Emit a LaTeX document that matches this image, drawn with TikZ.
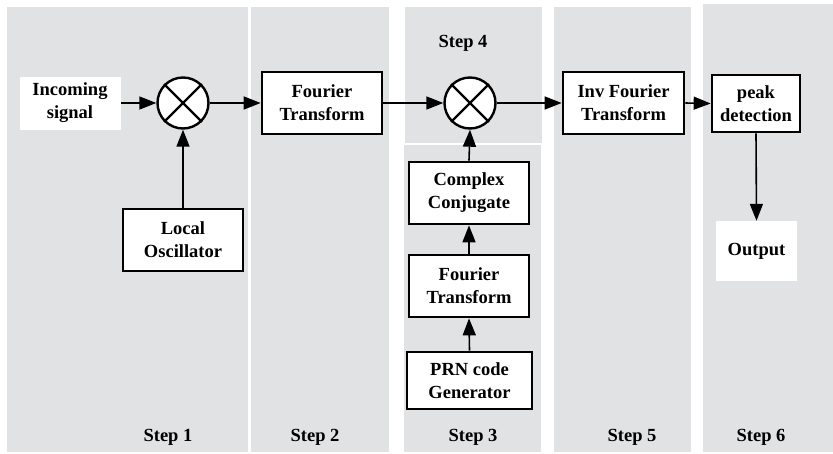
\documentclass[tikz,border=0pt]{standalone}
\usepackage{fontspec}
\setmainfont{Liberation Serif}
\usetikzlibrary{arrows.meta}
\definecolor{panelgray}{HTML}{E1E2E4}
\begin{document}
\begin{tikzpicture}[x=1pt,y=-1pt,
  font=\fontsize{18.5}{23}\selectfont\bfseries,
  panel/.style={fill=panelgray,draw=none},
  blockbox/.style={draw=black,line width=2.7pt,fill=white,align=center,inner sep=0pt},
  plainbox/.style={fill=white,draw=none,align=center,inner sep=0pt},
  mixer/.style={draw=black,line width=2.4pt,fill=white,circle,minimum size=51pt,inner sep=0pt},
  steplabel/.style={inner sep=0pt},
  conn/.style={line width=1.6pt,-{Triangle[length=17pt,width=13pt]}},
  plainconn/.style={line width=1.6pt}]
\useasboundingbox (0,0) rectangle (833,453);
% panels
\fill[panel] (7,7) rectangle (248,452);
\fill[panel] (251,7) rectangle (389,452);
\fill[panel] (405,7) rectangle (542,143);
\fill[panel] (404,145) rectangle (541,452);
\fill[panel] (554,7) rectangle (691,452);
\fill[panel] (703,4) rectangle (833,452);
% nodes
\node[plainbox,minimum width=101pt,minimum height=53pt] (in) at (70,103) {Incoming\\signal};
\node[mixer] (m1) at (183,103) {};
\draw[line width=2.4pt] (m1.north west) -- (m1.south east) (m1.north east) -- (m1.south west);
\node[blockbox,minimum width=120pt,minimum height=62pt] (lo) at (183,240) {Local\\Oscillator};
\node[blockbox,minimum width=120pt,minimum height=62pt] (ft1) at (322,103) {Fourier\\Transform};
\node[mixer] (m2) at (470,103) {};
\draw[line width=2.4pt] (m2.north west) -- (m2.south east) (m2.north east) -- (m2.south west);
\node[steplabel] (s4) at (463,43) {Step 4};
\node[blockbox,minimum width=120pt,minimum height=62pt] (cc) at (469,193) {Complex\\Conjugate};
\node[blockbox,minimum width=120pt,minimum height=62pt] (ft2) at (469,286) {Fourier\\Transform};
\node[blockbox,minimum width=125pt,minimum height=57pt] (prn) at (469.5,380.5) {PRN code\\Generator};
\node[blockbox,minimum width=121pt,minimum height=62pt] (ift) at (623.5,103) {Inv Fourier\\Transform};
\node[blockbox,minimum width=88pt,minimum height=57pt] (pk) at (756,103.5) {peak\\detection};
\node[plainbox,minimum width=81pt,minimum height=60pt] (out) at (756.5,251) {Output};
% step labels
\node[steplabel] (s1) at (168,437) {Step 1};
\node[steplabel] (s2) at (315,437) {Step 2};
\node[steplabel] (s3) at (473,437) {Step 3};
\node[steplabel] (s5) at (632,437) {Step 5};
\node[steplabel] (s6) at (761,437) {Step 6};
% connectors
\draw[conn] (in.east) -- (m1.west);
\draw[conn] (lo.north) -- (m1.south);
\draw[conn] (m1.east) -- (ft1.west);
\draw[conn] (ft1.east) -- (m2.west);
\draw[conn] (cc.north) -- (m2.south);
\draw[conn] (ft2.north) -- (cc.south);
\draw[conn] (prn.north) -- (ft2.south);
\draw[conn] (m2.east) -- (ift.west);
\draw[conn] (ift.east) -- (pk.west);
\draw[conn] (pk.south) -- (out.north);
\end{tikzpicture}
\end{document}
